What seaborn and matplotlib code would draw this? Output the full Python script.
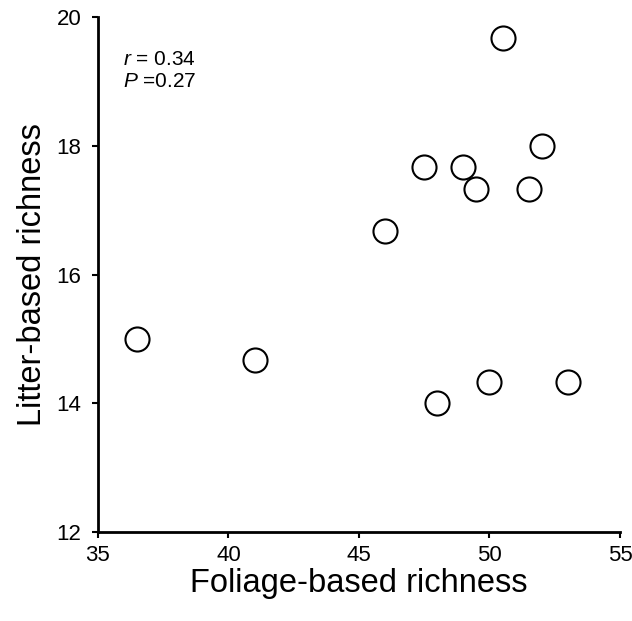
import matplotlib
matplotlib.use("Agg")
import matplotlib.pyplot as plt
import seaborn as sns
import pandas as pd

# 散布図データ
foliage_richness = [36.5, 41.0, 46.0, 47.5, 49.0, 49.5, 50.5, 51.5, 52.0, 48.0, 50.0, 53.0]
litter_richness = [15.0, 14.67, 16.67, 17.67, 17.67, 17.33, 19.67, 17.33, 18.0, 14.0, 14.33, 14.33]
x_ticks = [35, 40, 45, 50, 55]
y_ticks = [12, 14, 16, 18, 20]
r_value = 0.34
p_value = 0.27

sns.set_style("ticks")
plt.rcParams["font.family"] = ["Liberation Sans", "DejaVu Sans"]
plt.rcParams["mathtext.fontset"] = "custom"
plt.rcParams["mathtext.rm"] = "Liberation Sans"
plt.rcParams["mathtext.it"] = "Liberation Sans:italic"
plt.rcParams["text.color"] = "black"
plt.rcParams["axes.labelcolor"] = "black"

df = pd.DataFrame({"foliage": foliage_richness, "litter": litter_richness})

fig = plt.figure(figsize=(6.32, 6.21), dpi=100)
ax = fig.add_axes([0.155, 0.1433, 0.826, 0.8293])

sns.scatterplot(data=df, x="foliage", y="litter", ax=ax,
                s=300, marker="o", facecolor="white", edgecolor="black",
                linewidth=1.5, zorder=3, clip_on=False)

ax.set_xlim(35, 55)
ax.set_ylim(12, 20)
ax.set_xticks(x_ticks)
ax.set_yticks(y_ticks)

for side in ["top", "right"]:
    ax.spines[side].set_visible(False)
for side in ["left", "bottom"]:
    ax.spines[side].set_linewidth(2.0)
    ax.spines[side].set_color("black")

ax.tick_params(axis="both", direction="out", length=4, width=1.5,
               labelsize=16, colors="black")
ax.tick_params(axis="x", pad=5.5)
ax.tick_params(axis="y", pad=8)

ax.set_xlabel("Foliage-based richness", fontsize=23.5, labelpad=1)
ax.set_ylabel("Litter-based richness", fontsize=23.5, labelpad=6)

ax.text(0.048, 0.907, f"$r$ = {r_value:.2f}", transform=ax.transAxes,
        fontsize=15, ha="left", va="baseline")
ax.text(0.048, 0.864, f"$P$ ={p_value:.2f}", transform=ax.transAxes,
        fontsize=15, ha="left", va="baseline")

fig.savefig("out.png", dpi=100)
